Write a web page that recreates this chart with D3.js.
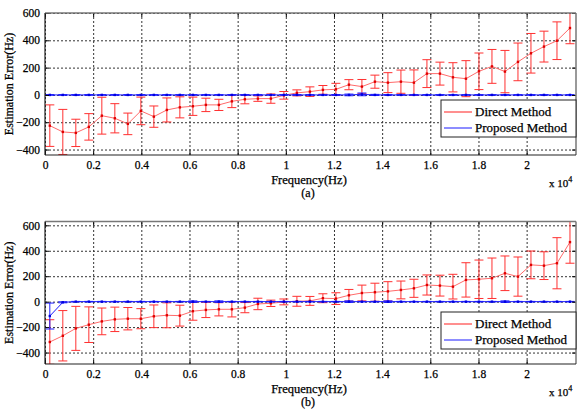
<!DOCTYPE html>
<html lang="en">
<head>
    <meta charset="UTF-8">
    <title>Estimation error vs frequency</title>
    <script src="https://d3js.org/d3.v7.min.js"></script>
    <style>
        body { margin: 0; background: #fff; }
        text { font-family: "Liberation Serif", "Times New Roman", serif; fill: #000; stroke: #000; stroke-width: 0.25px; }
    </style>
</head>
<body>
<script>

// test frequencies (Hz)
const freqHz = [200, 740, 1280, 1820, 2360, 2900, 3440, 3980, 4520, 5060,
                5600, 6140, 6680, 7220, 7760, 8300, 8840, 9380, 9920, 10460,
                11000, 11540, 12080, 12620, 13160, 13700, 14240, 14780, 15320, 15860,
                16400, 16940, 17480, 18020, 18560, 19100, 19640, 20180, 20720, 21260, 21800];

// panel (a)
const directA = [-225, -271, -278, -234, -152, -171, -212, -117, -159, -110,
                 -91, -83, -73, -73, -47, -32, -27, -27, -3, 15,
                 24, 37, 41, 75, 61, 97, 90, 97, 90, 156,
                 156, 129, 119, 173, 209, 171, 242, 305, 354, 397, 490];
const directErrA = [152, 165, 100, 97, 135, 107, 79, 101, 78, 88,
                    77, 67, 49, 41, 46, 33, 20, 34, 28, 22,
                    35, 32, 44, 37, 52, 48, 73, 85, 93, 102,
                    84, 107, 132, 134, 124, 155, 138, 145, 113, 138, 115];
const proposedA = [0, 0, 0, 0, 0, 0, 0, 0, 0, 0,
                   0, 0, 0, 0, 0, 0, 0, 0, 0, 0,
                   0, 0, 0, 0, 4, 0, 0, 0, 0, 0,
                   0, 0, 0, 0, 0, 0, 0, 0, 0, 0, 0];
const proposedErrA = [2, 2, 2, 2, 2, 2, 2, 2, 2, 2,
                      2, 2, 2, 2, 2, 2, 2, 2, 2, 2,
                      2, 2, 3, 6, 10, 4, 2, 2, 2, 2,
                      2, 2, 2, 2, 2, 2, 2, 2, 2, 2, 2];

// panel (b)
const directB = [-317, -268, -210, -181, -155, -139, -134, -134, -115, -107,
                 -110, -75, -65, -60, -60, -47, -18, -13, -2, 3,
                 6, 27, 24, 50, 68, 74, 81, 92, 105, 131,
                 126, 118, 171, 176, 184, 223, 197, 289, 283, 302, 468];
const directErrB = [175, 198, 173, 140, 105, 96, 88, 79, 89, 98,
                    82, 71, 60, 52, 60, 40, 45, 25, 23, 39,
                    35, 35, 46, 46, 62, 71, 76, 70, 71, 79,
                    82, 97, 135, 151, 159, 136, 154, 109, 109, 201, 166];
const proposedB = [-113, -5, 0, 0, 0, 0, 0, 0, 0, 0,
                   0, 0, 0, 0, 0, 0, 0, 0, 0, 0,
                   0, 0, 0, 0, 0, 0, 0, 0, 0, 0,
                   0, 0, 0, 0, 0, 0, 0, 0, 0, 0, 0];
const proposedErrB = [102, 4, 2, 2, 2, 2, 2, 2, 2, 2,
                      2, 6, 2, 6, 2, 2, 2, 2, 2, 2,
                      2, 2, 2, 6, 2, 2, 6, 2, 2, 2,
                      2, 2, 2, 2, 2, 6, 2, 2, 2, 2, 2];

const xTicks = [0, 2000, 4000, 6000, 8000, 10000, 12000, 14000, 16000, 18000, 20000];
const yTicks = [-400, -200, 0, 200, 400, 600];
const seriesNames = ["Direct Method", "Proposed Method"];

const w = 580;
const h = 411;
const left = 45;
const right = 576;

const redLine = "#ff6a6a";
const redBar = "#ff3030";
const blue = "#1a1aff";

const svg = d3.select("body")
              .append("svg")
              .attr("width", w)
              .attr("height", h);

const xScale = d3.scaleLinear()
                 .domain([0, 22050])
                 .range([left, right]);

function drawPanel(p) {
    const yScale = d3.scaleLinear()
                     .domain(p.yDomain)
                     .range([p.bottom, p.top]);

    const g = svg.append("g");

    // grid
    g.append("g")
     .attr("transform", "translate(0," + p.bottom + ")")
     .call(d3.axisBottom(xScale).tickValues(xTicks).tickSize(-(p.bottom - p.top)).tickFormat(""))
     .call(a => a.select(".domain").remove())
     .selectAll("line")
     .attr("stroke", "#333")
     .attr("stroke-dasharray", "2,2");

    g.append("g")
     .attr("transform", "translate(" + left + ",0)")
     .call(d3.axisLeft(yScale).tickValues(yTicks).tickSize(-(right - left)).tickFormat(""))
     .call(a => a.select(".domain").remove())
     .selectAll("line")
     .attr("stroke", "#333")
     .attr("stroke-dasharray", "2,2");

    const clipId = "clip" + p.name;
    svg.append("clipPath")
       .attr("id", clipId)
       .append("rect")
       .attr("x", left)
       .attr("y", p.top)
       .attr("width", right - left)
       .attr("height", p.bottom - p.top);

    const plot = g.append("g").attr("clip-path", "url(#" + clipId + ")");

    const series = [
        {vals: p.direct, errs: p.directErr, line: redLine, bar: redBar, mark: "#e00000"},
        {vals: p.proposed, errs: p.proposedErr, line: blue, bar: blue, mark: "#0000e0"}
    ];

    series.forEach(s => {
        const pts = freqHz.map((f, i) => ({f: f, v: s.vals[i], e: s.errs[i]}));

        const bars = plot.append("g")
                         .attr("stroke", s.bar)
                         .attr("stroke-width", 1);

        bars.selectAll("line.v")
            .data(pts)
            .enter()
            .append("line")
            .attr("x1", d => xScale(d.f))
            .attr("x2", d => xScale(d.f))
            .attr("y1", d => yScale(d.v - d.e))
            .attr("y2", d => yScale(d.v + d.e));

        bars.selectAll("line.top")
            .data(pts)
            .enter()
            .append("line")
            .attr("x1", d => xScale(d.f) - 4.5)
            .attr("x2", d => xScale(d.f) + 4.5)
            .attr("y1", d => yScale(d.v + d.e))
            .attr("y2", d => yScale(d.v + d.e));

        bars.selectAll("line.bot")
            .data(pts)
            .enter()
            .append("line")
            .attr("x1", d => xScale(d.f) - 4.5)
            .attr("x2", d => xScale(d.f) + 4.5)
            .attr("y1", d => yScale(d.v - d.e))
            .attr("y2", d => yScale(d.v - d.e));

        plot.append("path")
            .datum(pts)
            .attr("fill", "none")
            .attr("stroke", s.line)
            .attr("stroke-width", 1)
            .attr("d", d3.line().x(d => xScale(d.f)).y(d => yScale(d.v)));

        plot.selectAll(null)
            .data(pts)
            .enter()
            .append("rect")
            .attr("x", d => xScale(d.f) - 1.2)
            .attr("y", d => yScale(d.v) - 1.2)
            .attr("width", 2.4)
            .attr("height", 2.4)
            .attr("fill", s.mark);
    });

    // axes with inward ticks
    const xAxis = d3.axisBottom(xScale)
                    .tickValues(xTicks)
                    .tickSize(-4)
                    .tickPadding(6)
                    .tickFormat(d => d3.format("~g")(d / 1e4));
    const yAxis = d3.axisLeft(yScale)
                    .tickValues(yTicks)
                    .tickSize(-4)
                    .tickPadding(5);

    g.append("g")
     .attr("transform", "translate(0," + p.bottom + ")")
     .call(xAxis)
     .call(a => a.select(".domain").remove())
     .selectAll("text")
     .style("font-size", "11.5px")
     .style("font-family", "Liberation Serif");

    g.append("g")
     .attr("transform", "translate(" + left + ",0)")
     .call(yAxis)
     .call(a => a.select(".domain").remove())
     .selectAll("text")
     .style("font-size", "11.5px")
     .style("font-family", "Liberation Serif");

    g.append("g")
     .attr("transform", "translate(0," + p.top + ")")
     .call(d3.axisTop(xScale).tickValues(xTicks).tickSize(-4).tickFormat(""))
     .call(a => a.select(".domain").remove());

    g.append("g")
     .attr("transform", "translate(" + right + ",0)")
     .call(d3.axisRight(yScale).tickValues(yTicks).tickSize(-4).tickFormat(""))
     .call(a => a.select(".domain").remove());

    // box
    g.append("line").attr("x1", left).attr("x2", right).attr("y1", p.top).attr("y2", p.top)
     .attr("stroke", "#777").attr("stroke-width", 1.5);
    g.append("line").attr("x1", right).attr("x2", right).attr("y1", p.top).attr("y2", p.bottom)
     .attr("stroke", "#777").attr("stroke-width", 1.5);
    g.append("line").attr("x1", left).attr("x2", right).attr("y1", p.bottom).attr("y2", p.bottom)
     .attr("stroke", "#222").attr("stroke-width", 1.2);
    g.append("line").attr("x1", left).attr("x2", left).attr("y1", p.top).attr("y2", p.bottom)
     .attr("stroke", "#222").attr("stroke-width", 1.2);

    // labels
    g.append("text")
     .attr("transform", "translate(13," + ((p.top + p.bottom) / 2) + ") rotate(-90)")
     .attr("text-anchor", "middle")
     .style("font-size", "12px")
     .text("Estimation Error(Hz)");

    g.append("text")
     .attr("x", 309)
     .attr("y", p.bottom + 29)
     .attr("text-anchor", "middle")
     .style("font-size", "12.5px")
     .text("Frequency(Hz)");

    g.append("text")
     .attr("x", 308)
     .attr("y", p.bottom + 42)
     .attr("text-anchor", "middle")
     .style("font-size", "12px")
     .text(p.caption);

    const mult = g.append("text")
                  .attr("x", 549)
                  .attr("y", p.bottom + 32)
                  .style("font-size", "11px");
    mult.append("tspan").text("x 10");
    mult.append("tspan").attr("dy", -5).style("font-size", "8px").text("4");

    // legend
    const lg = g.append("g").attr("transform", "translate(441," + p.legendY + ")");
    lg.append("rect")
      .attr("width", right - 441)
      .attr("height", 37)
      .attr("fill", "#fff")
      .attr("stroke", "#222")
      .attr("stroke-width", 1);
    seriesNames.forEach((name, i) => {
        const yy = 12 + i * 16;
        lg.append("line")
          .attr("x1", 3).attr("x2", 31)
          .attr("y1", yy).attr("y2", yy)
          .attr("stroke", i === 0 ? redLine : blue)
          .attr("stroke-width", i === 0 ? 1.5 : 1);
        lg.append("text")
          .attr("x", 34)
          .attr("y", yy + 4)
          .style("font-size", "13px")
          .text(name);
    });
}

drawPanel({name: "a", top: 13, bottom: 155, yDomain: [-440, 600], legendY: 100,
           direct: directA, directErr: directErrA, proposed: proposedA, proposedErr: proposedErrA,
           caption: "(a)"});
drawPanel({name: "b", top: 221.5, bottom: 364, yDomain: [-490, 630], legendY: 312,
           direct: directB, directErr: directErrB, proposed: proposedB, proposedErr: proposedErrB,
           caption: "(b)"});

</script>
</body>
</html>
